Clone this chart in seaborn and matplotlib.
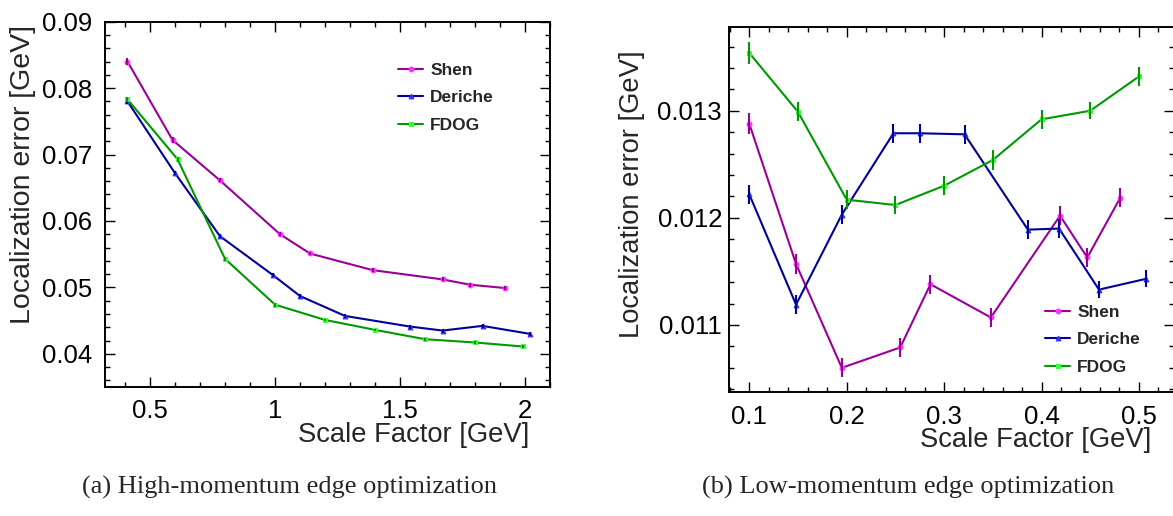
import numpy as np
import pandas as pd
import matplotlib
matplotlib.use("Agg")
import matplotlib.pyplot as plt
from matplotlib.ticker import MultipleLocator, FixedLocator
import seaborn as sns

# --- High-momentum edge optimization (left panel) ---
shen_hi_x = [0.41, 0.59, 0.78, 1.02, 1.14, 1.39, 1.67, 1.78, 1.92]
shen_hi_y = [0.0840, 0.0722, 0.0661, 0.0580, 0.0551, 0.0526, 0.0512, 0.0504, 0.0499]
shen_hi_err = [0.0005, 0.0004, 0.0003, 0.0003, 0.0003, 0.0003, 0.0003, 0.0003, 0.0003]

deriche_hi_x = [0.41, 0.60, 0.78, 0.99, 1.10, 1.28, 1.54, 1.67, 1.83, 2.02]
deriche_hi_y = [0.0780, 0.0672, 0.0577, 0.0519, 0.0487, 0.0457, 0.0441, 0.0435, 0.0442, 0.0430]
deriche_hi_err = [0.0004, 0.0003, 0.0003, 0.0003, 0.0003, 0.0003, 0.0003, 0.0003, 0.0003, 0.0003]

fdog_hi_x = [0.41, 0.61, 0.80, 1.00, 1.20, 1.40, 1.60, 1.80, 1.99]
fdog_hi_y = [0.0783, 0.0693, 0.0543, 0.0474, 0.0451, 0.0436, 0.0422, 0.0417, 0.0411]
fdog_hi_err = [0.0004, 0.0004, 0.0003, 0.0003, 0.0002, 0.0002, 0.0002, 0.0002, 0.0002]

# --- Low-momentum edge optimization (right panel) ---
shen_lo_x = [0.100, 0.148, 0.195, 0.255, 0.286, 0.348, 0.419, 0.447, 0.481]
shen_lo_y = [0.01288, 0.01157, 0.01060, 0.01079, 0.01138, 0.01107, 0.01202, 0.01163, 0.01219]
shen_lo_err = [0.00010, 0.00009, 0.00009, 0.00009, 0.00009, 0.00009, 0.00009, 0.00009, 0.00009]

deriche_lo_x = [0.100, 0.148, 0.195, 0.248, 0.275, 0.321, 0.386, 0.418, 0.459, 0.507]
deriche_lo_y = [0.01222, 0.01119, 0.01203, 0.01279, 0.01279, 0.01278, 0.01189, 0.01190, 0.01133, 0.01143]
deriche_lo_err = [0.00009, 0.00009, 0.00009, 0.00009, 0.00009, 0.00009, 0.00009, 0.00009, 0.00008, 0.00008]

fdog_lo_x = [0.10, 0.15, 0.20, 0.25, 0.30, 0.35, 0.40, 0.45, 0.50]
fdog_lo_y = [0.01354, 0.01299, 0.01217, 0.01212, 0.01230, 0.01254, 0.01292, 0.01300, 0.01332]
fdog_lo_err = [0.00010, 0.00009, 0.00009, 0.00008, 0.00009, 0.00009, 0.00009, 0.00008, 0.00009]

methods = ["Shen", "Deriche", "FDOG"]
line_colors = {"Shen": "#990099", "Deriche": "#000099", "FDOG": "#009900"}
marker_colors = {"Shen": "#ff33ff", "Deriche": "#3333ff", "FDOG": "#33ff33"}
markers = {"Shen": "o", "Deriche": "^", "FDOG": "s"}


def make_df(xs, ys, errs):
    rows = []
    for m, x, y, e in zip(methods, xs, ys, errs):
        rows.append(pd.DataFrame({"method": m, "x": x, "y": y, "err": e}))
    return pd.concat(rows, ignore_index=True)


df_hi = make_df([shen_hi_x, deriche_hi_x, fdog_hi_x],
                [shen_hi_y, deriche_hi_y, fdog_hi_y],
                [shen_hi_err, deriche_hi_err, fdog_hi_err])
df_lo = make_df([shen_lo_x, deriche_lo_x, fdog_lo_x],
                [shen_lo_y, deriche_lo_y, fdog_lo_y],
                [shen_lo_err, deriche_lo_err, fdog_lo_err])

sns.set_style("ticks")
plt.rcParams["font.family"] = ["Liberation Sans", "DejaVu Sans"]

fig = plt.figure(figsize=(11.73, 5.16), dpi=100)
ax1 = fig.add_axes([105 / 1173, 1 - 387 / 516, 445 / 1173, 365.3 / 516])
ax2 = fig.add_axes([729 / 1173, 1 - 392 / 516, 445 / 1173, 365.3 / 516])


def draw(ax, df):
    for m in methods:
        sub = df[df["method"] == m]
        sns.lineplot(data=sub, x="x", y="y", sort=False, ax=ax, color=line_colors[m],
                     linewidth=1.5, marker=markers[m], markersize=3.5,
                     markerfacecolor=marker_colors[m], markeredgecolor=marker_colors[m],
                     label=m)
        ax.errorbar(sub["x"], sub["y"], yerr=sub["err"], fmt="none",
                    ecolor=line_colors[m], elinewidth=1.5, capsize=0)
    ax.set_xlabel("")
    ax.set_ylabel("")
    for s in ax.spines.values():
        s.set_visible(True)
        s.set_linewidth(1.4)
        s.set_color("black")
    ax.tick_params(which="both", direction="in", top=True, right=True,
                   labelsize=18.5, width=1.0, colors="black")
    ax.tick_params(which="major", length=7)
    ax.tick_params(which="minor", length=3.6)


draw(ax1, df_hi)
ax1.set_xlim(0.32, 2.1)
ax1.set_ylim(0.035, 0.09)
ax1.xaxis.set_major_locator(FixedLocator([0.5, 1.0, 1.5, 2.0]))
ax1.set_xticklabels(["0.5", "1", "1.5", "2"])
ax1.xaxis.set_minor_locator(MultipleLocator(0.1))
ax1.yaxis.set_major_locator(FixedLocator([0.04, 0.05, 0.06, 0.07, 0.08, 0.09]))
ax1.set_yticklabels(["0.04", "0.05", "0.06", "0.07", "0.08", "0.09"])
ax1.yaxis.set_minor_locator(MultipleLocator(0.002))
ax1.tick_params(axis="y", which="major", pad=9)
ax1.tick_params(axis="x", which="major", pad=9)

draw(ax2, df_lo)
ax2.set_xlim(0.0792, 0.536)
ax2.set_ylim(0.010374, 0.013785)
ax2.xaxis.set_major_locator(FixedLocator([0.1, 0.2, 0.3, 0.4, 0.5]))
ax2.set_xticklabels(["0.1", "0.2", "0.3", "0.4", "0.5"])
ax2.xaxis.set_minor_locator(MultipleLocator(0.02))
ax2.yaxis.set_major_locator(FixedLocator([0.011, 0.012, 0.013]))
ax2.set_yticklabels(["0.011", "0.012", "0.013"])
ax2.yaxis.set_minor_locator(MultipleLocator(0.0002))
ax2.tick_params(axis="y", which="major", pad=5)
ax2.tick_params(axis="x", which="major", pad=9)

leg_font = {"family": ["Liberation Sans", "DejaVu Sans"], "weight": "bold", "size": 12.5}
ax1.legend(loc="upper left", bbox_to_anchor=((398 - 105) / 445, 1 - (63 - 21.7) / 365.3),
           frameon=False, prop=leg_font, handlelength=1.45, handletextpad=0.4,
           labelspacing=0.7, borderaxespad=0, borderpad=0)
ax2.legend(loc="upper left", bbox_to_anchor=((1045 - 729) / 445, 1 - (305 - 26.7) / 365.3),
           frameon=False, prop=leg_font, handlelength=1.45, handletextpad=0.4,
           labelspacing=0.7, borderaxespad=0, borderpad=0)

fig.text(23 / 1173, 1 - 175 / 516, "Localization error [GeV]", rotation=90,
         ha="center", va="center", fontsize=20.5)
fig.text(632 / 1173, 1 - 194 / 516, "Localization error [GeV]", rotation=90,
         ha="center", va="center", fontsize=19.7)
fig.text(529 / 1173, 1 - 435 / 516, "Scale Factor [GeV]", ha="right", va="center", fontsize=19.7)
fig.text(1151 / 1173, 1 - 440 / 516, "Scale Factor [GeV]", ha="right", va="center", fontsize=19.7)

fig.text(290 / 1173, 1 - 487 / 516, "(a) High-momentum edge optimization",
         ha="center", va="center", fontsize=19, family=["Liberation Serif", "DejaVu Serif"])
fig.text(908 / 1173, 1 - 487 / 516, "(b) Low-momentum edge optimization",
         ha="center", va="center", fontsize=19, family=["Liberation Serif", "DejaVu Serif"])

fig.savefig("out.png", dpi=100)
